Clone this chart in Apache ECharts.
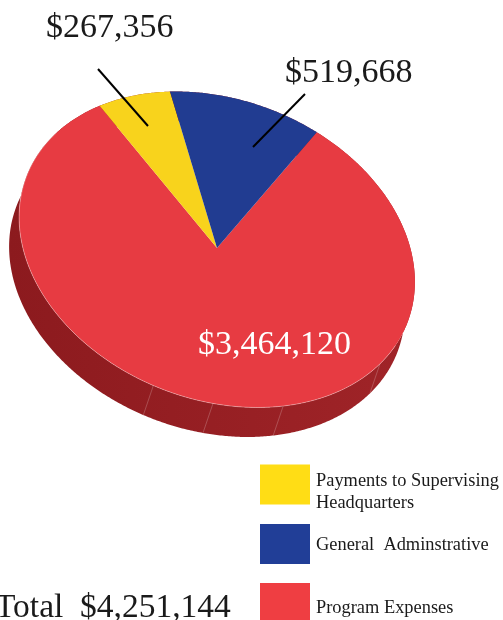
<!DOCTYPE html>
<html>
<head>
<meta charset="utf-8">
<style>html,body{margin:0;padding:0;background:#fff;overflow:hidden}#c{width:503px;height:620px}</style>
<script src="https://cdn.jsdelivr.net/npm/echarts@6/dist/echarts.min.js"></script>
</head>
<body>
<div id="c"></div>
<script>
// ---- data ----
var categories = ['Program Expenses', 'Payments to Supervising\nHeadquarters', 'General  Adminstrative'];
var values = [3464120, 267356, 519668];
var valueLabels = ['$3,464,120', '$267,356', '$519,668'];
var totalLabel = 'Total  $4,251,144';
var sliceColors = ['#E73B42', '#F8D31C', '#213C91'];
var legendColors = ['#EF3E42', '#FFDD15', '#213E97'];
var wallFacetDegrees = [18.8, 54.7, 75.4, 93];

// ---- layout ----
var FONT = '"Liberation Serif", serif';
var CX = 217, CY = 249.5, RA = 204, RB = 150, TILT = 21 * Math.PI / 180;
var DX = -10, DY = 29.5, START = -75.5;
var labelPos = [[198, 345], [46, 28], [285, 73]];
var labelColor = ['#FFFFFF', '#1A1A1A', '#1A1A1A'];
var callouts = [null, [[98, 69], [148, 126]], [[305, 94], [253, 147]]];
// per-slice legend placement: component top, and height of a spacer line above the text
var legendTops = [583, 462, 524];
var legendSpacer = [10, 15, 3];

var total = values.reduce(function (a, b) { return a + b; }, 0);
function pt(deg, ox, oy) {
  var t = deg * Math.PI / 180, u = RA * Math.cos(t), v = RB * Math.sin(t);
  return [CX + u * Math.cos(TILT) - v * Math.sin(TILT) + (ox || 0),
          CY + u * Math.sin(TILT) + v * Math.cos(TILT) + (oy || 0)];
}
function sweep(i) {
  var s = START;
  for (var k = 0; k < i; k++) s += values[k] / total * 360;
  return [s, s + values[i] / total * 360];
}
function arc(a, b, ox, oy) {
  var pts = [], n = Math.max(2, Math.ceil(Math.abs(b - a) * 2));
  for (var k = 0; k <= n; k++) pts.push(pt(a + (b - a) * k / n, ox, oy));
  return pts;
}
var wallFill = new echarts.graphic.LinearGradient(0, 0, 1, 0, [
  { offset: 0, color: '#8C1A1E' }, { offset: 1, color: '#A02428' }
]);

function renderWall(params) {
  var i = params.dataIndex, r = sweep(i);
  var kids = [{
    type: 'polygon',
    shape: { points: arc(r[0], r[1]).concat(arc(r[1], r[0], DX, DY)) },
    style: { fill: wallFill }
  }];
  if (i === 0) wallFacetDegrees.forEach(function (d) {
    var p = pt(d), q = pt(d, DX, DY);
    kids.push({
      type: 'line',
      shape: { x1: p[0], y1: p[1], x2: q[0], y2: q[1] },
      style: { stroke: 'rgba(255,255,255,0.3)', lineWidth: 0.7 }
    });
  });
  return { type: 'group', children: kids };
}
function renderSlice(i) {
  return function () {
    var r = sweep(i);
    var kids = [{
      type: 'polygon',
      shape: { points: [[CX, CY - 1.5]].concat(arc(r[0], r[1])) },
      style: { fill: sliceColors[i] }
    }];
    if (i === 0) kids.push({
      type: 'polyline',
      z2: 2,
      shape: { points: arc(10, 200) },
      style: { stroke: 'rgba(255,225,225,0.55)', lineWidth: 0.7, fill: 'none' }
    });
    if (callouts[i]) kids.push({
      type: 'line',
      z2: 5,
      shape: { x1: callouts[i][0][0], y1: callouts[i][0][1], x2: callouts[i][1][0], y2: callouts[i][1][1] },
      style: { stroke: '#000', lineWidth: 2 }
    });
    kids.push({
      type: 'text',
      z2: 6,
      style: {
        text: valueLabels[i], x: labelPos[i][0], y: labelPos[i][1],
        font: '34px ' + FONT, fill: labelColor[i],
        textAlign: 'left', textVerticalAlign: 'middle'
      }
    });
    return { type: 'group', children: kids };
  };
}

var series = [{
  type: 'custom', name: 'wall', coordinateSystem: 'none', z: 1, silent: true,
  data: values, renderItem: renderWall
}];
categories.forEach(function (c, i) {
  series.push({
    type: 'custom', name: c, coordinateSystem: 'none', z: i === 0 ? 2 : 3, silent: true,
    data: [values[i]], renderItem: renderSlice(i),
    itemStyle: { color: legendColors[i] }
  });
});

var legends = categories.map(function (c, i) {
  return {
    orient: 'vertical', left: 260, top: legendTops[i], padding: 0,
    itemWidth: 50, itemHeight: 40, selectedMode: false, icon: 'rect',
    data: [{ name: c, itemStyle: { color: legendColors[i] } }],
    formatter: function (name) {
      return '{s| }\n' + name.split('\n').map(function (l) { return '{t|' + l + '}'; }).join('\n');
    },
    textStyle: {
      color: '#1A1A1A', padding: [0, 0, 0, 1],
      rich: {
        s: { fontSize: 1, lineHeight: legendSpacer[i] },
        t: { fontFamily: FONT, fontSize: 18.4, color: '#1A1A1A', lineHeight: 22 }
      }
    }
  };
});

var chart = echarts.init(document.getElementById('c'), null, { renderer: 'canvas' });
chart.setOption({
  animation: false,
  backgroundColor: '#fff',
  legend: legends,
  graphic: [{
    type: 'text', left: -5, top: 591,
    style: { text: totalLabel, font: '33.5px ' + FONT, fill: '#1A1A1A' }
  }],
  series: series
});
</script>
</body>
</html>
